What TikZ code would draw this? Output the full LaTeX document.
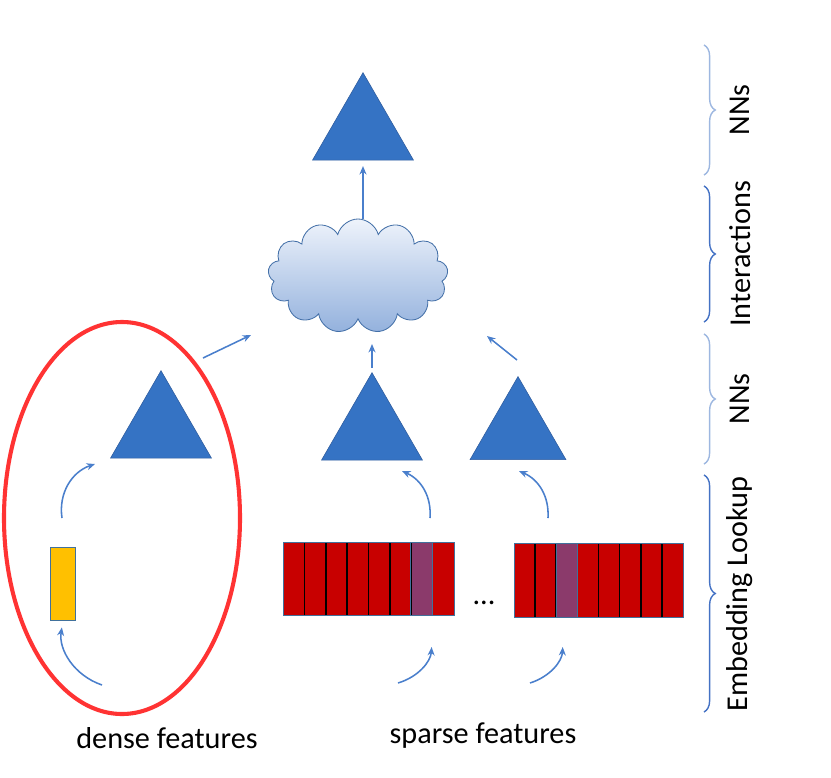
\documentclass[tikz,border=0pt]{standalone}
\usepackage{fontspec}
\setmainfont{Carlito}
\usepackage{xcolor}
\usetikzlibrary{calc, shapes.geometric, shapes.symbols, positioning, decorations.pathreplacing, arrows.meta}

\definecolor{nnblue}{HTML}{3573C4}
\definecolor{nnedge}{HTML}{2F5C9E}
\definecolor{arrowblue}{HTML}{4A7FCC}
\definecolor{embred}{HTML}{C80000}
\definecolor{embpurple}{HTML}{8B3A6B}
\definecolor{densegold}{HTML}{FFC000}
\definecolor{boxedge}{HTML}{41719C}
\definecolor{bracelight}{HTML}{9DB7E0}
\definecolor{bracedark}{HTML}{4472C4}
\definecolor{circlered}{HTML}{FF3333}
\definecolor{cloudtop}{HTML}{EEF3FB}
\definecolor{cloudbot}{HTML}{93B1DD}
\definecolor{cloudedge}{HTML}{4470A8}

\tikzset{
    nn/.style={regular polygon, regular polygon sides=3, minimum size=2.915cm,
        inner sep=0pt, fill=nnblue, draw=nnedge, line width=0.4pt},
    flow/.style={-{Stealth[length=6pt, width=5pt]}, draw=arrowblue, line width=1.1pt},
    layerbrace/.style={decorate, decoration={brace, amplitude=8pt}, line width=1pt},
    layerlabel/.style={rotate=90, font=\fontsize{21.5}{25}\selectfont},
    caption/.style={font=\fontsize{21.5}{25}\selectfont},
}

\begin{document}
\begin{tikzpicture}[x=0.025cm, y=-0.025cm]
    \useasboundingbox (0,0) rectangle (831,778);

    % =================================================================
    % 1. NNs, interactions cloud
    % =================================================================
    \node[nn] (topnn) at (363,131) {};
    \node[cloud, cloud puffs=13, aspect=1.6, minimum width=4.5cm, minimum height=2.85cm,
          inner sep=0pt, draw=cloudedge, line width=0.6pt,
          top color=cloudtop, bottom color=cloudbot] (cloud) at (358,276) {};

    \node[nn] (densenn) at (161,429) {};
    \node[nn] (sparsenna) at (372,431) {};
    \node[nn, minimum size=2.77cm] (sparsennb) at (518,432) {};

    % =================================================================
    % 2. Embedding vectors
    % =================================================================
    \node[draw=boxedge, fill=densegold, line width=0.6pt, minimum width=0.625cm,
          minimum height=1.825cm, inner sep=0pt] (dense) at (62.5,583.5) {};

    % first sparse embedding (purple cell is 7th)
    \foreach \i in {0,...,7} {
        \ifnum\i=6 \def\cellcol{embpurple}\else\def\cellcol{embred}\fi
        \fill[\cellcol] (283+\i*21.375,542) rectangle (283+\i*21.375+21.375,615);
    }
    \foreach \i in {1,...,7} {
        \draw[black, line width=1.1pt] (283+\i*21.375,542) -- (283+\i*21.375,615);
    }
    \draw[boxedge, line width=0.6pt] (410.9,542) rectangle (432.3,615);
    \node[draw=boxedge, line width=0.6pt, minimum width=4.275cm, minimum height=1.825cm,
          inner sep=0pt] (embA) at (368.5,578.5) {};

    % second sparse embedding (purple cell is 3rd)
    \foreach \i in {0,...,7} {
        \ifnum\i=2 \def\cellcol{embpurple}\else\def\cellcol{embred}\fi
        \fill[\cellcol] (514+\i*21.125,543) rectangle (514+\i*21.125+21.125,617);
    }
    \foreach \i in {1,...,7} {
        \draw[black, line width=1.1pt] (514+\i*21.125,543) -- (514+\i*21.125,617);
    }
    \draw[boxedge, line width=0.6pt] (556.25,543) rectangle (577.4,617);
    \node[draw=boxedge, line width=0.6pt, minimum width=4.225cm, minimum height=1.85cm,
          inner sep=0pt] (embB) at (598.5,580) {};

    \node[caption] (dots) at (484,603) {...};

    % =================================================================
    % 3. Arrows
    % =================================================================
    \coordinate (inA) at (102,685);
    \coordinate (inB) at (398,683);
    \coordinate (inC) at (530,683);
    \coordinate (denseup) at (62,518);
    \coordinate (embAup) at (430,518);
    \coordinate (embBup) at (548,518);

    \draw[flow, shorten >=5pt] (inA) to[bend left=40] (dense.south -| 63,0);
    \draw[flow] (denseup) to[bend left=40] (95,464);
    \draw[flow, shorten >=5pt] (inB) to[bend right=35] (432,640);
    \draw[flow, shorten >=5pt] (inC) to[bend right=35] (563,640);
    \draw[flow] (embAup) to[bend right=35] (402,471);
    \draw[flow] (embBup) to[bend right=35] (519,471);

    \coordinate (denseout) at (203,358);
    \coordinate (cloudin) at (251,335);
    \coordinate (sparseout) at (517,360);
    \coordinate (cloudinb) at (487,336);
    \draw[flow] (denseout) -- (cloudin);
    \draw[flow] (sparseout) -- (cloudinb);
    \draw[flow, shorten <=3pt] (sparsenna.north) -- (372,344);
    \draw[flow, shorten >=4pt] (topnn.south |- cloud.north) -- (topnn.south);

    % =================================================================
    % 4. Highlight ring and captions
    % =================================================================
    \draw[circlered, line width=2.9pt] (122,518) ellipse [x radius=118, y radius=196];

    \node[caption] (densecap) at (167,738) {dense features};
    \node[caption] (sparsecap) at (483,736) {sparse features};

    % =================================================================
    % 5. Layer braces
    % =================================================================
    \draw[layerbrace, bracelight] (704,45) -- (704,175);
    \draw[layerbrace, bracedark] (704,186) -- (704,322);
    \draw[layerbrace, bracelight] (704,334) -- (704,464);
    \draw[layerbrace, bracedark] (704,475) -- (704,712);

    \node[layerlabel] (nnsup) at (740,110) {NNs};
    \node[layerlabel] (inter) at (740,254) {Interactions};
    \node[layerlabel] (nnsdown) at (740,399) {NNs};
    \node[layerlabel] (embed) at (740,594) {Embedding Lookup};

\end{tikzpicture}
\end{document}
